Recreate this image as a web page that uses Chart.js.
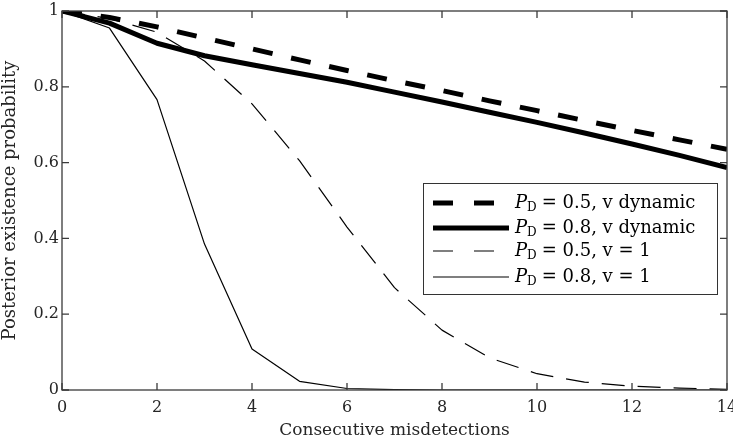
<!DOCTYPE html>
<html lang="en">
  <head>
    <meta charset="UTF-8" />
    <title>Posterior existence probability</title>
    <style>
      html, body { margin: 0; padding: 0; background: #fff; overflow: hidden; }
    </style>
  </head>
  <body>
    <canvas id="myChart" width="733" height="445"></canvas>

    <script src="https://cdn.jsdelivr.net/npm/chart.js"></script>

    <script>
      // consecutive misdetections
      const misdetections = [0, 1, 2, 3, 4, 5, 6, 7, 8, 9, 10, 11, 12, 13, 14];

      // P_D = 0.5, v dynamic
      const pd05Dynamic = [1, 0.983, 0.958, 0.929, 0.9, 0.871, 0.843, 0.816, 0.79, 0.763, 0.737, 0.711, 0.685, 0.66, 0.635];
      // P_D = 0.8, v dynamic
      const pd08Dynamic = [1, 0.968, 0.915, 0.882, 0.858, 0.835, 0.812, 0.786, 0.76, 0.733, 0.706, 0.678, 0.649, 0.619, 0.587];
      // P_D = 0.5, v = 1
      const pd05Fixed = [1, 0.98, 0.944, 0.868, 0.755, 0.605, 0.43, 0.27, 0.158, 0.085, 0.043, 0.021, 0.01, 0.005, 0.002];
      // P_D = 0.8, v = 1
      const pd08Fixed = [1, 0.955, 0.766, 0.385, 0.108, 0.023, 0.004, 0.001, 0, 0, 0, 0, 0, 0, 0];

      const pdLabels = ["0.5", "0.8", "0.5", "0.8"];
      const vLabels = ["v dynamic", "v dynamic", "v = 1", "v = 1"];

      const xTicks = [0, 2, 4, 6, 8, 10, 12, 14];
      const yTicks = [0, 0.2, 0.4, 0.6, 0.8, 1];

      const FONT = "'DejaVu Serif', 'Liberation Serif', serif";
      const INK = "#262626";

      function points(ys) {
        return misdetections.map((x, i) => ({ x: x, y: ys[i] }));
      }

      function lineSet(ys, i, width, dash) {
        return {
          label: "P_D = " + pdLabels[i] + ", " + vLabels[i],
          data: points(ys),
          borderColor: "#000",
          borderWidth: width,
          borderDash: dash,
          borderCapStyle: "butt",
          borderJoinStyle: "round",
          pointRadius: 0,
          tension: 0,
          fill: false,
        };
      }

      // box round the plot and inward ticks on all four sides
      const framePlugin = {
        id: "frame",
        afterDraw(chart) {
          const c = chart.ctx;
          const a = chart.chartArea;
          const xs = chart.scales.x;
          const ys = chart.scales.y;
          const len = 7;
          c.save();
          c.strokeStyle = "#3a3a3a";
          c.lineWidth = 1.3;
          c.strokeRect(a.left, a.top, a.right - a.left, a.bottom - a.top);
          c.beginPath();
          xTicks.forEach((v) => {
            const px = xs.getPixelForValue(v);
            c.moveTo(px, a.bottom);
            c.lineTo(px, a.bottom - len);
            c.moveTo(px, a.top);
            c.lineTo(px, a.top + len);
          });
          yTicks.forEach((v) => {
            const py = ys.getPixelForValue(v);
            c.moveTo(a.left, py);
            c.lineTo(a.left + len, py);
            c.moveTo(a.right, py);
            c.lineTo(a.right - len, py);
          });
          c.stroke();
          c.restore();
        },
      };

      // legend with P_D subscript and dash samples
      const legendPlugin = {
        id: "pdLegend",
        afterDraw(chart) {
          const c = chart.ctx;
          const a = chart.chartArea;
          const w = 294;
          const h = 111;
          const left = a.right - 10 - w;
          const top = 183;
          c.save();
          c.fillStyle = "#fff";
          c.fillRect(left, top, w, h);
          c.strokeStyle = "#333";
          c.lineWidth = 1;
          c.strokeRect(left + 0.5, top + 0.5, w, h);

          const rows = [20, 45, 68, 94];
          chart.data.datasets.forEach((ds, i) => {
            const y = top + rows[i];
            const dashed = ds.borderDash && ds.borderDash.length > 0;
            c.beginPath();
            c.strokeStyle = "#000";
            c.lineWidth = ds.borderWidth;
            c.lineCap = "butt";
            c.setLineDash(dashed ? [20, 21] : []);
            c.moveTo(left + 10, y);
            c.lineTo(left + (dashed ? 78 : 86), y);
            c.stroke();
            c.setLineDash([]);

            let tx = left + 92;
            c.fillStyle = "#000";
            c.textBaseline = "middle";
            c.font = "italic 18px " + FONT;
            c.fillText("P", tx, y);
            tx += c.measureText("P").width;
            c.font = "12px " + FONT;
            c.fillText("D", tx, y + 5);
            tx += c.measureText("D").width + 2;
            c.font = "18px " + FONT;
            c.fillText("= " + pdLabels[i] + ", " + vLabels[i], tx + 3, y);
          });
          c.restore();
        },
      };

      const ctx1 = document.getElementById("myChart");

      const chart1 = new Chart(ctx1, {
        type: "line",
        data: {
          datasets: [
            lineSet(pd05Dynamic, 0, 5, [20, 19]),
            lineSet(pd08Dynamic, 1, 5, []),
            lineSet(pd05Fixed, 2, 1.2, [23, 13]),
            lineSet(pd08Fixed, 3, 1.2, []),
          ],
        },
        options: {
          responsive: false,
          animation: false,
          layout: {
            padding: { left: 0, top: 11, right: 6, bottom: 0 },
          },
          plugins: {
            legend: { display: false },
            tooltip: { enabled: false },
          },
          scales: {
            x: {
              type: "linear",
              min: 0,
              max: 14,
              grid: { display: false, drawTicks: false },
              border: { display: false },
              afterBuildTicks: (s) => {
                s.ticks = xTicks.map((v) => ({ value: v }));
              },
              afterFit: (s) => {
                s.height = 55;
                s.paddingLeft = 0;
                s.paddingRight = 0;
              },
              ticks: {
                padding: 8,
                color: INK,
                font: { family: FONT, size: 16 },
                maxRotation: 0,
              },
              title: {
                display: true,
                text: "Consecutive misdetections",
                color: INK,
                font: { family: FONT, size: 17 },
                padding: { top: 0, bottom: 4 },
              },
            },
            y: {
              type: "linear",
              min: 0,
              max: 1,
              grid: { display: false, drawTicks: false },
              border: { display: false },
              afterBuildTicks: (s) => {
                s.ticks = yTicks.map((v) => ({ value: v }));
              },
              afterFit: (s) => {
                s.width = 62;
                s.paddingTop = 0;
                s.paddingBottom = 0;
              },
              ticks: {
                padding: 3,
                color: INK,
                font: { family: FONT, size: 16 },
                callback: (v) => String(Math.round(v * 10) / 10),
              },
              title: {
                display: true,
                text: "Posterior existence probability",
                color: INK,
                font: { family: FONT, size: 18 },
                padding: { top: 0, bottom: 5 },
              },
            },
          },
        },
        plugins: [framePlugin, legendPlugin],
      });
    </script>
  </body>
</html>
